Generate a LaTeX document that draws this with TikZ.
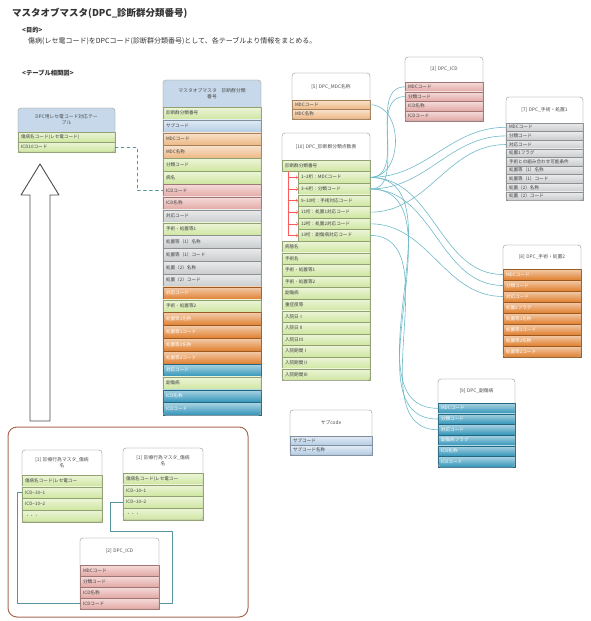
\documentclass[tikz,border=0pt]{standalone}
\usepackage{fontspec}
\setmainfont{Noto Sans CJK JP}

\definecolor{grn}{HTML}{CFE6A0}
\definecolor{blu}{HTML}{B4CCE4}
\definecolor{orl}{HTML}{EDB781}
\definecolor{pnk}{HTML}{E3A8A4}
\definecolor{gry}{HTML}{C9CCCE}
\definecolor{ord}{HTML}{E07F2E}
\definecolor{tea}{HTML}{2F93B8}
\definecolor{hblu}{HTML}{C6D8EA}
\definecolor{brn}{HTML}{A86A55}
\definecolor{lnk}{HTML}{6EB9C8}
\colorlet{grnt}{black!75}
\colorlet{blut}{black!75}
\colorlet{orlt}{black!75}
\colorlet{pnkt}{black!75}
\colorlet{gryt}{black!75}
\colorlet{ordt}{white}
\colorlet{teat}{white}

% name, x, y, width, header height, row pitch, header fill, header text, rows
\newcommand{\dbtable}[9]{%
  \pgfmathsetmacro\tabtw{#4-6}%
  \pgfmathsetmacro\tabhw{#4-8}%
  \filldraw[hdrbox, fill=#7] (#2,#3) rectangle ++(#4,#5+4);
  \node[hdrtxt, text width=\tabhw pt] (#1h) at (#2+#4/2,#3+#5/2) {#8};
  \foreach \rt/\rc [count=\i] in {#9}{%
    \node[fld, pal=\rc, text width=\tabtw pt, minimum height=#6] (#1\i) at (#2,#3+#5+\i*#6-#6) {\rt};
    \xdef\lastrow{#1\i}}
  \draw[tabframe] (#2,#3) rectangle (\lastrow.south east);
}

\begin{document}
\begin{tikzpicture}[x=1pt,y=-1pt,line cap=round,line join=round,
    fld/.style={anchor=north west, inner xsep=3pt, inner ysep=0pt, outer sep=0pt,
      align=left, font=\fontsize{4.6}{5}\selectfont, text height=3.8pt, text depth=0.8pt, line width=0.3pt},
    pal/.style={top color=#1!40!white, bottom color=#1, draw=#1!70!black, text=#1t},
    hdrbox/.style={rounded corners=3pt, draw=gray!55, line width=0.4pt},
    hdrtxt/.style={align=center, inner sep=0pt, font=\fontsize{4.8}{6}\selectfont, text=black!70},
    tabframe/.style={rounded corners=3pt, draw=gray!60, line width=0.4pt},
    link/.style={draw=lnk, line width=0.6pt},
    elink/.style={draw=lnk!80!black, line width=0.5pt},
    bracket/.style={draw=red!65, line width=0.5pt},
    txt/.style={anchor=west, inner sep=0pt, text=black!80}]
\useasboundingbox (0,0) rectangle (590,621);

%% heading
\node[txt, font=\fontsize{9.5}{11}\selectfont\bfseries] (title) at (12,13) {マスタオブマスタ(DPC\_診断群分類番号)};
\node[txt, font=\fontsize{6.3}{7}\selectfont\bfseries] (goal) at (22,30) {<目的>};
\node[txt, font=\fontsize{7}{8}\selectfont] (goaltxt) at (28,41) {傷病(レセ電コード)をDPCコード(診断群分類番号)として、各テーブルより情報をまとめる。};
\node[txt, font=\fontsize{6.3}{7}\selectfont\bfseries] (rel) at (22,73) {<テーブル相関図>};

%% tables
\dbtable{L}{18}{108}{97}{24}{10}{hblu}{DPC用レセ電コード対応テー\\ブル}{傷病名コード(レセ電コード)/grn,
  ICD10コード/grn}
\dbtable{M}{163}{80}{98}{27}{12.85}{hblu}{マスタオブマスタ　診断群分類\\番号}{診断群分類番号/grn,
  サブコード/blu,MDCコード/orl,MDC名称/orl,分類コード/grn,病名/grn,ICDコード/pnk,ICD名称/pnk,
  対応コード/gry,手術・処置等1/grn,処置等（1）名称/gry,処置等（1）コード/gry,処置（2）名称/gry,
  処置（2）コード/gry,対応コード/ord,手術・処置等2/grn,処置等1名称/ord,処置等1コード/ord,
  処置等2名称/ord,処置等2コード/ord,対応コード/tea,副傷病/grn,ICD名称/tea,ICDコード/tea}
\dbtable{F}{292}{73}{78}{27}{9.5}{white}{[5] DPC\_MDC名称}{MDCコード/orl,MDC名称/orl}
\dbtable{I}{405}{57}{78}{25}{9.7}{white}{[3] DPC\_ICD}{MDCコード/pnk,分類コード/pnk,ICD名称/pnk,
  ICDコード/pnk}
\dbtable{S}{506}{97}{77}{26}{8.6}{white}{[7] DPC\_手術・処置1}{MDCコード/gry,分類コード/gry,
  対応コード/gry,処置1フラグ/gry,手術との組み合わせ可能条件/gry,処置等（1）名称/gry,
  処置等（1）コード/gry,処置（2）名称/gry,処置（2）コード/gry}
\dbtable{T}{503}{245}{78}{24}{11}{white}{[8] DPC\_手術・処置2}{MDCコード/ord,分類コード/ord,
  対応コード/ord,処置2フラグ/ord,処置等1名称/ord,処置等1コード/ord,処置等2名称/ord,処置等2コード/ord}
\dbtable{B}{438}{379}{77}{24}{10.7}{white}{[9] DPC\_副傷病}{MDCコード/tea,分類コード/tea,
  対応コード/tea,副傷病フラグ/tea,ICD名称/tea,ICDコード/tea}
\dbtable{U}{290}{410}{82}{26}{9.5}{white}{サブcode}{サブコード/blu,サブコード名称/blu}

%% [10] with indented digit rows
\filldraw[hdrbox, fill=white] (282,133) rectangle ++(88,31);
\node[hdrtxt, text width=80pt] (Ph) at (326,146.5) {[10] DPC\_診断群分類点数表};
\node[fld, pal=grn, text width=82pt, minimum height=11.6] (P1) at (282,160) {診断群分類番号};
\foreach \rt [count=\i from 2] in {1−2桁：MDCコード,3−6桁：分類コード,9−10桁：手術対応コード,
    11桁：処置1対応コード,12桁：処置2対応コード,13桁：副傷病対応コード}
  \node[fld, pal=grn, text width=66pt, minimum height=11.6] (P\i) at (298,160+\i*11.6-11.6) {\rt};
\foreach \rt [count=\i from 8] in {病態名,手術名,手術・処置等1,手術・処置等2,副傷病,重症度等,
    入院日Ⅰ,入院日Ⅱ,入院日Ⅲ,入院期間Ⅰ,入院期間Ⅱ,入院期間Ⅲ}
  \node[fld, pal=grn, text width=82pt, minimum height=11.6] (P\i) at (282,160+\i*11.6-11.6) {\rt};
\draw[tabframe] (282,133) rectangle (P19.south east);
\coordinate (brk) at (288,171.6);
\draw[bracket] (brk) -- (brk |- P7.west);
\foreach \i in {2,...,7}
  \draw[bracket, ->] (brk |- P\i.west) -- (P\i.west);

%% links from the digit rows
\draw[link] (P2.east) to[out=0,in=0,looseness=1.2] (F1.east);
\foreach \a/\b in {P2/I1,P3/I2,P2/S1,P3/S2,P5/S3,P2/T1,P3/T2,P6/T3,P2/B1,P3/B2,P7/B3}
  \draw[link] (\a.east) to[out=0,in=180] (\b.west);
\draw[elink, dashed] (L2.east) -- ++(22,0) |- (M7.west);

%% big arrow
\draw[line width=0.9pt, draw=gray!60!black, fill=white] (30,421) -- (30,195) -- (21,195) -- (40,164)
  -- (59,195) -- (50,195) -- (50,421) -- cycle;

%% bottom group
\draw[line width=1pt, draw=brn, rounded corners=9pt] (8,427) rectangle (248,617);
\dbtable{N}{22}{450}{80}{25}{11.7}{white}{[1] 診療行為マスタ\_傷病\\名}{傷病名コード(レセ電コー/grn,
  ICD−10−1/grn,ICD−10−2/grn,・・・/grn}
\dbtable{R}{123}{448}{80}{25}{11.7}{white}{[1] 診療行為マスタ\_傷病\\名}{傷病名コード(レセ電コー/grn,
  ICD−10−1/grn,ICD−10−2/grn,・・・/grn}
\dbtable{C}{80}{538}{79}{27}{11}{white}{[2] DPC\_ICD}{MDCコード/pnk,分類コード/pnk,ICD名称/pnk,
  ICDコード/pnk}
\draw[elink] (N2.west) -- ++(-5,0) |- (C4.west);
\draw[elink] (R3.west) -- ++(-13,0) -- ++(0,29) -| ([xshift=13pt]C4.east) -- (C4.east);
\end{tikzpicture}
\end{document}
